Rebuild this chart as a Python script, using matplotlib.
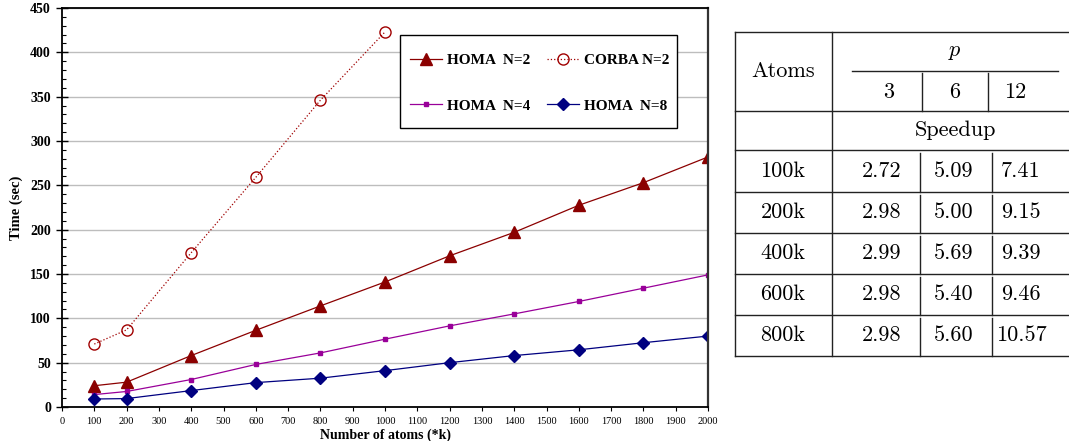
import matplotlib
matplotlib.use("Agg")
import matplotlib.pyplot as plt
from matplotlib.ticker import MultipleLocator
from matplotlib.patches import Rectangle

plt.rcParams['mathtext.fontset'] = 'cm'

# datos do grafico (tempo em segundos)
atoms = [100, 200, 400, 600, 800, 1000, 1200, 1400, 1600, 1800, 2000]
homa_n2 = [24, 28, 58, 86.5, 114, 141, 170.5, 197, 227.5, 253, 282]
homa_n4 = [14, 17.5, 31, 48, 61, 76.5, 91.5, 105, 119, 134, 149]
homa_n8 = [9, 9.5, 18.5, 27.5, 32.5, 41, 50, 58, 64.5, 72.5, 80]
corba_atoms = [100, 200, 400, 600, 800, 1000]
corba_n2 = [71, 87, 174, 259, 346, 423]

# dados da tabela de speedup
p_values = ['3', '6', '12']
row_atoms = ['100k', '200k', '400k', '600k', '800k']
speedup = [['2.72', '5.09', '7.41'],
           ['2.98', '5.00', '9.15'],
           ['2.99', '5.69', '9.39'],
           ['2.98', '5.40', '9.46'],
           ['2.98', '5.60', '10.57']]

W, H = 1069, 441
fig = plt.figure(figsize=(W / 100, H / 100), dpi=100)
ax = fig.add_axes([62 / W, 1 - 407 / H, 646 / W, 399 / H])

# eixo auxiliar em pixels para a tabela e a caixa da legenda
tax = fig.add_axes([0, 0, 1, 1])
tax.set_xlim(0, W)
tax.set_ylim(H, 0)
tax.axis('off')

serif = 'Liberation Serif'
ax.plot(atoms, homa_n2, color='#8b0000', lw=0.9, marker='^', ms=9, label='HOMA  N=2')
ax.plot(atoms, homa_n4, color='#990099', lw=0.9, marker='s', ms=3, label='HOMA  N=4')
ax.plot(corba_atoms, corba_n2, color='#a00000', lw=0.9, ls=':', marker='o', ms=8,
        mfc='none', mec='#a00000', mew=1.0, label='CORBA N=2')
ax.plot(atoms, homa_n8, color='#000080', lw=0.9, marker='D', ms=6, label='HOMA  N=8')

ax.set_xlim(0, 2000)
ax.set_ylim(0, 450)
ax.xaxis.set_major_locator(MultipleLocator(100))
ax.yaxis.set_major_locator(MultipleLocator(50))
ax.yaxis.set_minor_locator(MultipleLocator(10))
ax.grid(axis='y', which='major', color='#bdbdbd', lw=1.0)
ax.set_axisbelow(True)

ax.tick_params(axis='y', which='major', direction='inout', length=8, width=1, pad=4)
ax.tick_params(axis='y', which='minor', direction='in', length=3, width=0.8)
ax.tick_params(axis='x', which='major', direction='out', length=3, width=0.8, pad=4.5)
for lab in ax.get_yticklabels():
    lab.set_fontfamily(serif)
    lab.set_fontweight('bold')
    lab.set_fontsize(10)
for lab in ax.get_xticklabels():
    lab.set_fontfamily(serif)
    lab.set_fontsize(7.5)

for s in ['left', 'bottom', 'top']:
    ax.spines[s].set_linewidth(1.3)
    ax.spines[s].set_color('black')
ax.spines['right'].set_linewidth(1.6)
ax.spines['right'].set_color('#333333')

ax.set_xlabel('Number of atoms (*k)', fontfamily=serif, fontweight='bold', fontsize=10)
ax.xaxis.set_label_coords(0.5, -(428.5 - 407) / 399)
ax.set_ylabel('Time (sec)', fontfamily=serif, fontweight='bold', fontsize=10.5, labelpad=5)

# caixa branca da legenda
ax.add_patch(Rectangle((400, 35), 277, 93, transform=tax.transData, fc='white',
                       ec='black', lw=1.0, zorder=4, clip_on=False))
handles, labels = ax.get_legend_handles_labels()
leg = ax.legend(handles, labels, ncol=2, loc='center',
                bbox_to_anchor=(539.5 / W, 1 - 83 / H),
                bbox_transform=fig.transFigure, borderaxespad=0, frameon=False,
                prop={'family': serif, 'weight': 'bold', 'size': 11},
                labelspacing=2.1, handlelength=2.1, handletextpad=0.3,
                columnspacing=1.1, borderpad=0)

# tabela desenhada a direita, em coordenadas de pixel
lc = '#222222'
lw = 1.0
x_left, x_sep, x_right = 735, 832, W
row_lines = [31.5, 111, 150, 191.5, 232.5, 274, 315, 355.5]
for y in row_lines:
    tax.plot([x_left, x_right], [y, y], color=lc, lw=lw)
tax.plot([x_left, x_left], [row_lines[0], row_lines[-1]], color=lc, lw=lw)
tax.plot([x_sep, x_sep], [row_lines[0], row_lines[-1]], color=lc, lw=lw)
# linha por baixo do p e separadores do cabecalho
tax.plot([852, 1058], [70.7, 70.7], color=lc, lw=lw)
for xv in [922, 988]:
    tax.plot([xv, xv], [73, 111], color=lc, lw=lw)
# separadores das linhas de dados
for i in range(len(row_atoms)):
    top, bot = row_lines[i + 2], row_lines[i + 3]
    for xv in [920, 991.5]:
        tax.plot([xv, xv], [top + 3, bot], color=lc, lw=lw)

tfont = {'family': 'cmr10', 'size': 16}
tax.text(783, 71, 'Atoms', ha='center', va='center', fontdict=tfont)
tax.text(955, 52, '$p$', ha='center', va='center', fontsize=16)
for x, p in zip([889, 955, 1015], p_values):
    tax.text(x, 92, p, ha='center', va='center', fontdict=tfont)
tax.text(955, 130, 'Speedup', ha='center', va='center', fontdict=tfont)
col_x = [882, 954, 1021]
for i, name in enumerate(row_atoms):
    yc = (row_lines[i + 2] + row_lines[i + 3]) / 2
    tax.text(783, yc, name, ha='center', va='center', fontdict=tfont)
    for x, v in zip(col_x, speedup[i]):
        tax.text(x, yc, v, ha='center', va='center', fontdict=tfont)

fig.savefig('out.png', dpi=100)
